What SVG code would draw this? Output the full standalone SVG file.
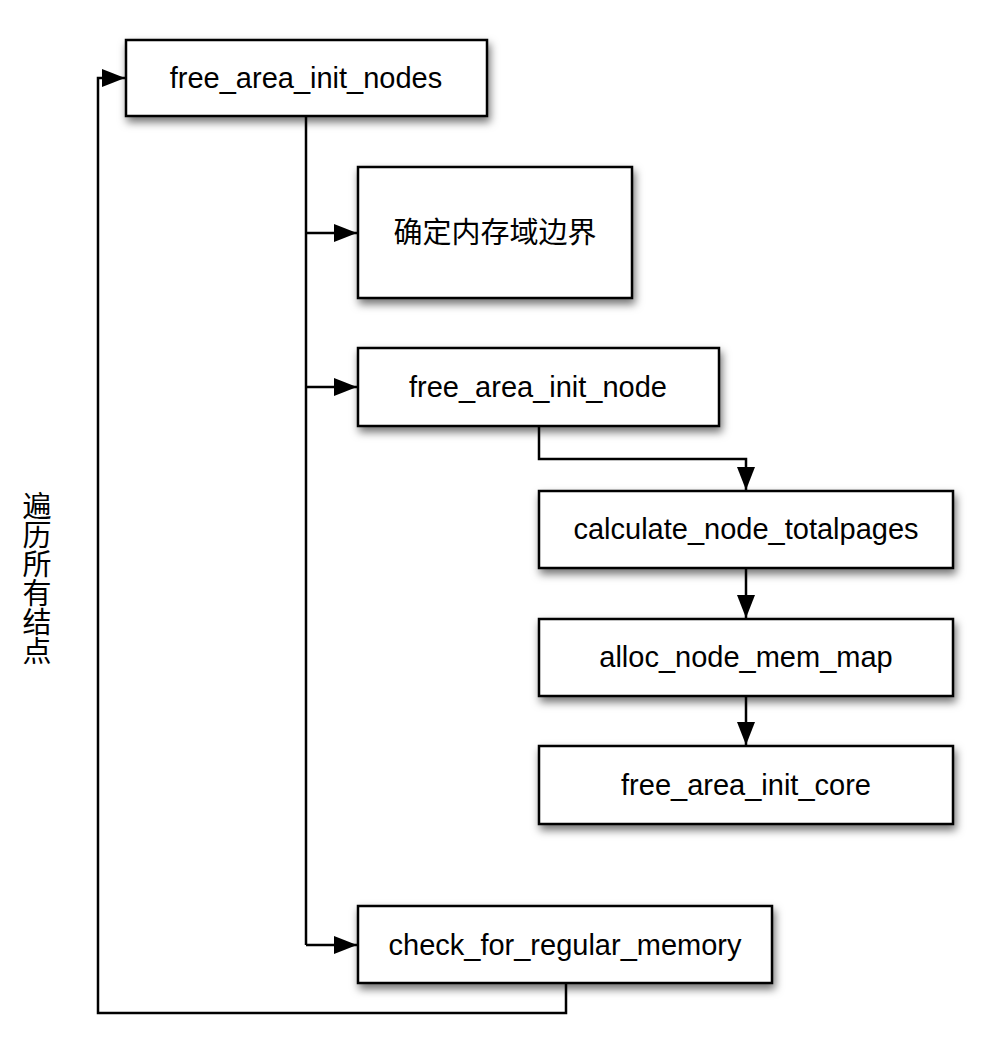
<svg xmlns="http://www.w3.org/2000/svg" width="1000" height="1041" viewBox="0 0 1000 1041">
<style>
.box{fill:#fff;stroke:#000;stroke-width:2.5;filter:url(#sh)}
.lbl{font-family:"Liberation Sans","Noto Sans CJK SC",sans-serif;font-size:29px;fill:#000;text-anchor:middle;dominant-baseline:central}
.ln{fill:none;stroke:#000;stroke-width:2.5;marker-end:url(#ah)}
.plain{fill:none;stroke:#000;stroke-width:2.5}
</style>
<defs>
<filter id="sh" x="-10%" y="-20%" width="125%" height="150%">
<feDropShadow dx="2" dy="5" stdDeviation="4" flood-color="#000" flood-opacity="0.55"/>
</filter>
<marker id="ah" markerWidth="23" markerHeight="18" refX="23" refY="9" orient="auto" markerUnits="userSpaceOnUse">
<path d="M0,0 L23,9 L0,18 Z" fill="#000"/>
</marker>
</defs>
<rect width="1000" height="1041" fill="#fff"/>
<g id="connectors">
<path class="plain" d="M306,116 V945"/>
<path class="ln" d="M306,233 H357"/>
<path class="ln" d="M306,387 H357"/>
<path class="ln" d="M306,945 H357"/>
<path class="ln" d="M539,426 V459 H746 V490"/>
<path class="ln" d="M746,568 V618"/>
<path class="ln" d="M746,696 V745"/>
<path class="ln" d="M566,983 V1013 H98 V78 H125"/>
</g>
<g id="n1"><rect class="box" x="126" y="40" width="361" height="76"/><text class="lbl" x="306" y="78">free_area_init_nodes</text></g>
<g id="n2"><rect class="box" x="358" y="167" width="274" height="131"/><text class="lbl" x="495" y="233">确定内存域边界</text></g>
<g id="n3"><rect class="box" x="358" y="348" width="361" height="78"/><text class="lbl" x="538" y="387">free_area_init_node</text></g>
<g id="n4"><rect class="box" x="539" y="491" width="414" height="77"/><text class="lbl" x="746" y="529">calculate_node_totalpages</text></g>
<g id="n5"><rect class="box" x="539" y="619" width="414" height="77"/><text class="lbl" x="746" y="657">alloc_node_mem_map</text></g>
<g id="n6"><rect class="box" x="539" y="746" width="414" height="78"/><text class="lbl" x="746" y="785">free_area_init_core</text></g>
<g id="n7"><rect class="box" x="358" y="906" width="414" height="77"/><text class="lbl" x="565" y="945">check_for_regular_memory</text></g>
<g id="loop-label">
<text class="lbl" x="37" y="507">遍</text>
<text class="lbl" x="37" y="536">历</text>
<text class="lbl" x="37" y="565">所</text>
<text class="lbl" x="37" y="594">有</text>
<text class="lbl" x="37" y="623">结</text>
<text class="lbl" x="37" y="652">点</text>
</g>
</svg>
